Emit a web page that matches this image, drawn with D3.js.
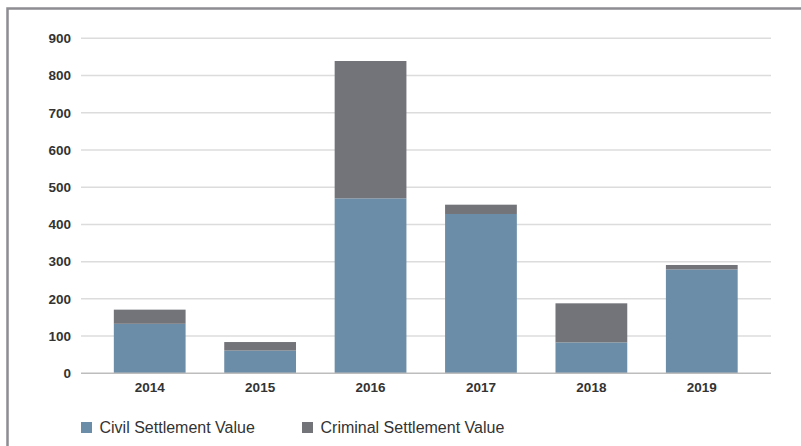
<!DOCTYPE html>
<html>
<head>
<meta charset="utf-8">
<script src="https://cdn.jsdelivr.net/npm/d3@7"></script>
<style>
  html, body { margin: 0; padding: 0; background: #fff; }
  svg { display: block; }
</style>
</head>
<body>
<svg id="chart" width="801" height="446"></svg>
<script>
const years = ["2014", "2015", "2016", "2017", "2018", "2019"];
const civil = [133, 61, 470, 428, 83, 279];
const criminal = [38, 23, 369, 25, 105, 12];
const yTicks = [0, 100, 200, 300, 400, 500, 600, 700, 800, 900];
const seriesNames = ["Civil Settlement Value", "Criminal Settlement Value"];
const colors = ["#6c8da7", "#737479"];

const svg = d3.select("#chart");

// frame
svg.append("rect")
  .attr("x", 7.5).attr("y", 8.5)
  .attr("width", 900).attr("height", 600)
  .attr("fill", "none").attr("stroke", "#8d8d92").attr("stroke-width", 2.5);

const y = d3.scaleLinear().domain([0, 900]).range([373.3, 38.3]);
const x = d3.scaleBand().domain(years).range([94.5, 757]).paddingInner(0.35).paddingOuter(0.175);
const gridX0 = 81, gridX1 = 771;

// gridlines
svg.append("g").selectAll("line").data(yTicks.filter(d => d > 0)).join("line")
  .attr("x1", gridX0).attr("x2", gridX1)
  .attr("y1", d => y(d)).attr("y2", d => y(d))
  .attr("stroke", "#dcdcdc").attr("stroke-width", 1.5);

// y axis labels
const yAxis = d3.axisLeft(y).tickValues(yTicks).tickSize(0).tickPadding(0);
const gy = svg.append("g").attr("transform", "translate(71,0)").call(yAxis);
gy.select(".domain").remove();
gy.selectAll("text")
  .attr("font-family", "'Liberation Sans', Arial, sans-serif")
  .attr("font-size", 13.5).attr("font-weight", "bold").attr("fill", "#333");

// stacked bars
const data = years.map((yr, i) => ({ year: yr, civil: civil[i], criminal: criminal[i] }));
const stack = d3.stack().keys(["civil", "criminal"])(data);
svg.append("g").selectAll("g").data(stack).join("g")
  .attr("fill", (d, i) => colors[i])
  .selectAll("rect").data(d => d).join("rect")
  .attr("x", d => x(d.data.year))
  .attr("width", x.bandwidth())
  .attr("y", d => y(d[1]))
  .attr("height", d => y(d[0]) - y(d[1]));

// baseline
svg.append("line")
  .attr("x1", gridX0).attr("x2", gridX1)
  .attr("y1", y(0)).attr("y2", y(0))
  .attr("stroke", "#bdbdbd").attr("stroke-width", 1.5);

// x axis labels
const xAxis = d3.axisBottom(x).tickSize(0).tickPadding(0);
const gx = svg.append("g").attr("transform", "translate(0,388)").call(xAxis);
gx.select(".domain").remove();
gx.selectAll("text")
  .attr("dy", "0.32em")
  .attr("font-family", "'Liberation Sans', Arial, sans-serif")
  .attr("font-size", 13.5).attr("font-weight", "bold").attr("fill", "#333");

// legend
const legendX = [81, 302];
const lg = svg.append("g").selectAll("g").data(seriesNames).join("g")
  .attr("transform", (d, i) => `translate(${legendX[i]},422)`);
lg.append("rect").attr("width", 11).attr("height", 11).attr("fill", (d, i) => colors[i]);
lg.append("text")
  .attr("x", 18.5).attr("y", 5.8).attr("dy", "0.35em")
  .attr("font-family", "'Liberation Sans', Arial, sans-serif")
  .attr("font-size", 16).attr("fill", "#333")
  .text(d => d);
</script>
</body>
</html>
